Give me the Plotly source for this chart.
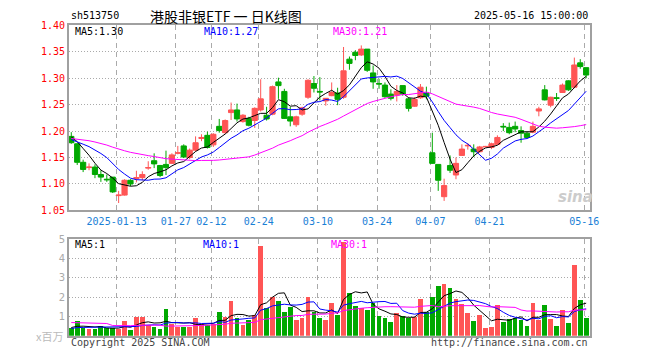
import pandas as pd
import plotly.graph_objects as go

# ---------------- data ----------------
holidays = ["2025-01-01", "2025-01-28", "2025-01-29", "2025-01-30", "2025-01-31",
            "2025-02-03", "2025-02-04", "2025-04-04", "2025-05-01", "2025-05-02", "2025-05-05"]
dates = [d.strftime("%Y-%m-%d") for d in pd.bdate_range("2024-12-31", "2025-05-16")
         if d.strftime("%Y-%m-%d") not in holidays]

opens = [1.190, 1.176, 1.141, 1.131, 1.132, 1.118, 1.109, 1.113, 1.078, 1.079,
         1.107, 1.110, 1.112, 1.130, 1.144, 1.135, 1.137, 1.139, 1.158, 1.172,
         1.150, 1.164, 1.186, 1.192, 1.174, 1.209, 1.197, 1.235, 1.240, 1.218,
         1.224, 1.220, 1.240, 1.230, 1.232, 1.293, 1.275, 1.227, 1.212, 1.232,
         1.264, 1.290, 1.275, 1.257, 1.267, 1.272, 1.264, 1.336, 1.349, 1.344,
         1.355, 1.310, 1.290, 1.287, 1.270, 1.268, 1.286, 1.261, 1.247, 1.263,
         1.272, 1.159, 1.137, 1.076, 1.135, 1.117, 1.154, 1.172, 1.166, 1.161,
         1.170, 1.169, 1.175, 1.209, 1.207, 1.209, 1.201, 1.196, 1.198, 1.238,
         1.278, 1.249, 1.263, 1.273, 1.295, 1.283, 1.329, 1.320]
highs = [1.198, 1.177, 1.146, 1.139, 1.137, 1.126, 1.118, 1.113, 1.087, 1.109,
         1.109, 1.125, 1.124, 1.143, 1.158, 1.136, 1.163, 1.158, 1.172, 1.175,
         1.167, 1.190, 1.194, 1.199, 1.196, 1.223, 1.222, 1.254, 1.252, 1.232,
         1.227, 1.245, 1.298, 1.246, 1.286, 1.301, 1.280, 1.246, 1.229, 1.246,
         1.298, 1.304, 1.302, 1.262, 1.292, 1.282, 1.359, 1.341, 1.353, 1.362,
         1.355, 1.324, 1.299, 1.292, 1.279, 1.287, 1.286, 1.264, 1.264, 1.289,
         1.284, 1.197, 1.137, 1.110, 1.154, 1.150, 1.175, 1.177, 1.175, 1.172,
         1.172, 1.178, 1.192, 1.215, 1.216, 1.218, 1.209, 1.200, 1.218, 1.246,
         1.287, 1.265, 1.272, 1.290, 1.296, 1.339, 1.336, 1.320]
lows = [1.176, 1.136, 1.1225, 1.126, 1.111, 1.104, 1.104, 1.083, 1.064, 1.078,
        1.096, 1.103, 1.107, 1.127, 1.130, 1.113, 1.117, 1.138, 1.156, 1.149,
        1.147, 1.161, 1.181, 1.167, 1.170, 1.197, 1.195, 1.221, 1.218, 1.216,
        1.209, 1.206, 1.237, 1.220, 1.230, 1.261, 1.223, 1.209, 1.208, 1.229,
        1.261, 1.273, 1.258, 1.248, 1.266, 1.249, 1.261, 1.316, 1.334, 1.342,
        1.312, 1.280, 1.280, 1.263, 1.258, 1.256, 1.267, 1.237, 1.246, 1.261,
        1.260, 1.138, 1.087, 1.068, 1.121, 1.109, 1.153, 1.165, 1.151, 1.159,
        1.170, 1.166, 1.174, 1.200, 1.194, 1.198, 1.178, 1.186, 1.196, 1.228,
        1.258, 1.245, 1.257, 1.272, 1.276, 1.281, 1.318, 1.300]
closes = [1.178, 1.141, 1.1275, 1.132, 1.118, 1.113, 1.108, 1.085, 1.079, 1.107,
          1.100, 1.112, 1.118, 1.131, 1.138, 1.116, 1.131, 1.155, 1.159, 1.151,
          1.164, 1.178, 1.188, 1.169, 1.194, 1.201, 1.220, 1.240, 1.223, 1.230,
          1.211, 1.243, 1.261, 1.223, 1.284, 1.286, 1.224, 1.219, 1.227, 1.244,
          1.296, 1.281, 1.274, 1.262, 1.273, 1.260, 1.314, 1.328, 1.343, 1.355,
          1.315, 1.293, 1.289, 1.265, 1.262, 1.275, 1.270, 1.243, 1.260, 1.283,
          1.266, 1.139, 1.107, 1.097, 1.126, 1.139, 1.166, 1.173, 1.161, 1.170,
          1.171, 1.176, 1.188, 1.208, 1.197, 1.204, 1.196, 1.188, 1.209, 1.242,
          1.259, 1.264, 1.262, 1.287, 1.278, 1.325, 1.322, 1.306]
# volume, millions
volumes = [0.38, 0.77, 0.43, 0.35, 0.37, 0.50, 0.38, 0.38, 0.37, 0.77,
           0.32, 0.97, 0.97, 0.58, 0.47, 0.37, 1.37, 0.63, 0.47, 0.47,
           0.47, 0.92, 0.63, 0.58, 0.62, 1.22, 0.97, 1.82, 0.92, 0.57,
           0.82, 1.10, 4.62, 1.42, 2.02, 1.82, 1.22, 1.47, 0.83, 0.92,
           2.02, 1.22, 0.92, 0.83, 1.72, 1.07, 4.85, 2.22, 1.52, 1.42,
           1.32, 1.68, 1.02, 0.92, 0.72, 1.17, 1.05, 0.92, 0.97, 1.92,
           1.22, 1.98, 2.58, 2.67, 2.47, 1.88, 1.62, 1.18, 0.77, 1.08,
           0.38, 0.48, 1.58, 0.73, 0.85, 0.92, 0.83, 0.53, 1.68, 0.83,
           1.58, 0.87, 0.53, 1.32, 0.68, 3.67, 1.83, 0.93]
# history before the visible window (estimated from where the MA lines start)
prev_closes = [1.170, 1.175, 1.182, 1.190, 1.195, 1.200, 1.205, 1.198, 1.192, 1.188,
               1.183, 1.180, 1.185, 1.190, 1.186, 1.182, 1.178, 1.184, 1.190, 1.187,
               1.180, 1.176, 1.178, 1.181, 1.180, 1.186, 1.192, 1.196, 1.193]
prev_volumes = [0.9, 0.8, 0.7, 0.6, 0.7, 0.6, 3.5, 0.6, 0.5, 0.6,
                0.5, 0.5, 0.6, 0.5, 0.5, 2.8, 0.6, 0.5, 0.4, 0.4,
                0.3, 0.35, 0.3, 0.35, 0.35, 0.45, 0.4, 0.5, 0.42]

tick_dates = ["2025-01-13", "2025-01-27", "2025-02-12", "2025-02-24", "2025-03-10",
              "2025-03-24", "2025-04-07", "2025-04-21", "2025-05-16"]
tick_labels = ["2025-01-13", "01-27", "02-12", "02-24", "03-10",
               "03-24", "04-07", "04-21", "05-16"]
price_ticks = [1.05, 1.10, 1.15, 1.20, 1.25, 1.30, 1.35, 1.40]
vol_ticks = [1, 2, 3, 4, 5]

# ---------------- derived ----------------
n = len(dates)
xs = list(range(n))
allc = pd.Series(prev_closes + closes)
allv = pd.Series(prev_volumes + volumes)
ma = {k: allc.rolling(k).mean().tolist()[-n:] for k in (5, 10, 30)}
vma = {k: allv.rolling(k).mean().tolist()[-n:] for k in (5, 10, 30)}

RED = "#ff5555"
GREEN = "#00a800"
MONO = "DejaVu Sans Mono"
W, H = 660, 360
L, R = 70, 598
MT, MB = 20.9, 211.3   # main panel top/bottom px
VT, VB = 240.7, 340.3  # volume panel

def px(x):
    return x / W

def py(y):
    return 1 - y / H

tickpos = [dates.index(d) - 0.33 for d in tick_dates]
xr = [-0.38, n - 0.38]

fig = go.Figure()
fig.add_trace(go.Candlestick(
    x=xs, open=opens, high=highs, low=lows, close=closes,
    increasing=dict(line=dict(color=RED, width=1), fillcolor=RED),
    decreasing=dict(line=dict(color=GREEN, width=1), fillcolor=GREEN),
    whiskerwidth=0, xaxis="x", yaxis="y", hoverinfo="skip"))
for k, col in ((5, "#000000"), (10, "#0000ff"), (30, "#ff00ff")):
    fig.add_trace(go.Scatter(x=xs, y=ma[k], mode="lines", line=dict(color=col, width=1),
                             xaxis="x", yaxis="y", hoverinfo="skip"))

bar_colors = [RED if c >= o else GREEN for o, c in zip(opens, closes)]
fig.add_trace(go.Bar(x=xs, y=volumes, marker=dict(color=bar_colors, line=dict(width=0)),
                     width=0.8, xaxis="x2", yaxis="y2", hoverinfo="skip"))
for k, col in ((5, "#000000"), (10, "#0000ff"), (30, "#ff00ff")):
    fig.add_trace(go.Scatter(x=xs, y=vma[k], mode="lines", line=dict(color=col, width=1),
                             xaxis="x2", yaxis="y2", hoverinfo="skip"))

axcommon = dict(showline=True, mirror=True, linecolor="#a0a0a0", linewidth=2,
                zeroline=False, ticks="", fixedrange=True)
fig.update_layout(
    width=W, height=H, margin=dict(l=0, r=0, t=0, b=0),
    paper_bgcolor="white", plot_bgcolor="white", showlegend=False,
    boxgap=0.12, boxgroupgap=0,
    bargap=0,
    xaxis=dict(domain=[px(L), px(R)], range=xr, anchor="y",
               tickmode="array", tickvals=tickpos, ticktext=tick_labels,
               tickfont=dict(family=MONO, size=10, color="#1a80d6"),
               showgrid=True, gridcolor="#aaaaaa", griddash="5px,4px", gridwidth=1,
               rangeslider=dict(visible=False), ticklabelstandoff=1, **axcommon),
    yaxis=dict(domain=[py(MB), py(MT)], range=[1.05, 1.40], anchor="x",
               tickmode="array", tickvals=price_ticks,
               ticktext=["%.2f" % v for v in price_ticks],
               tickfont=dict(family=MONO, size=10, color="#ff0000"),
               showgrid=True, gridcolor="#aaaaaa", griddash="1px,2px", gridwidth=1,
               ticklabelstandoff=0, **axcommon),
    xaxis2=dict(domain=[px(L), px(R)], range=xr, anchor="y2",
                tickmode="array", tickvals=tickpos, showticklabels=False,
                showgrid=True, gridcolor="#aaaaaa", griddash="5px,4px", gridwidth=1,
                **axcommon),
    yaxis2=dict(domain=[py(VB), py(VT)], range=[0, 5], anchor="x2",
                tickmode="array", tickvals=vol_ticks, ticktext=[str(v) for v in vol_ticks],
                tickfont=dict(family="DejaVu Sans", size=10, color="#aaaaaa"),
                showgrid=True, gridcolor="#aaaaaa", griddash="1px,2px", gridwidth=1,
                ticklabelstandoff=0, **axcommon),
)

def text(x, y, s, color="#000000", size=10, family=MONO, xanchor="left", **kw):
    fig.add_annotation(x=px(x), y=py(y), xref="paper", yref="paper", text=s,
                       showarrow=False, xanchor=xanchor, yanchor="middle",
                       font=dict(family=family, size=size, color=color), **kw)

text(L, 11, "sh513750")
text(150, 11, "港股非银ETF 一 日K线图", size=14, family="Noto Sans CJK SC")
text(R, 11, "2025-05-16 15:00:00", xanchor="right")
text(74, 27, "MA5:1.30")
text(205, 27, "MA10:1.27", color="#0000ff")
text(336, 27, "MA30:1.21", color="#ff00ff")
text(74, 246, "MA5:1")
text(204, 246, "MA10:1", color="#0000ff")
text(334, 246, "MA30:1", color="#ff00ff")
text(66, 340, "x百万", color="#bbbbbb", size=11, family="Noto Sans CJK SC", xanchor="right")
text(L, 347, "Copyright 2025 SINA.COM", color="#444444")
text(R, 347, "http://finance.sina.com.cn", color="#444444", xanchor="right")
text(583, 197, "<b><i>sina</i></b>", color="#cccccc", size=15, family="DejaVu Sans",
     xanchor="center")

fig.write_html("out.html")
